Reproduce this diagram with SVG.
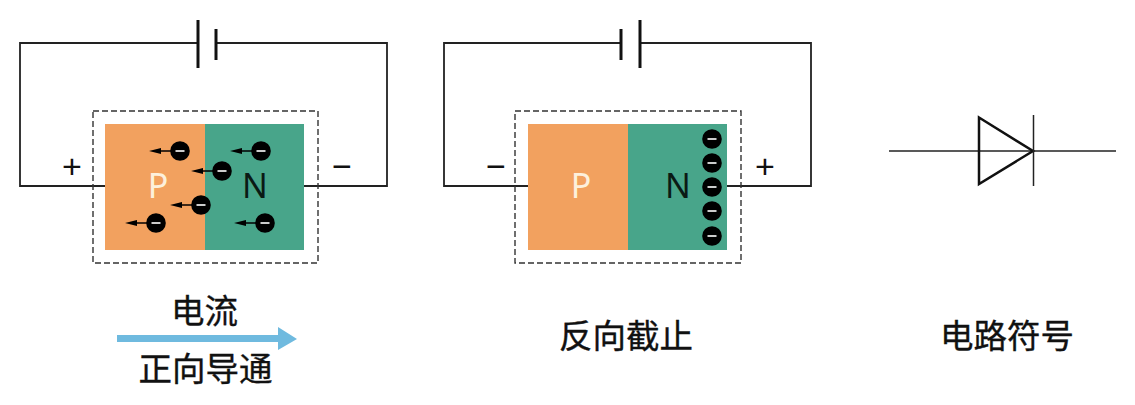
<svg xmlns="http://www.w3.org/2000/svg" width="1135" height="405" viewBox="0 0 1135 405">
<style>
.w{fill:none;stroke:#222;stroke-width:1.8}
.d{fill:none;stroke:#333;stroke-width:1.4;stroke-dasharray:6 3}
.p{fill:#f2a15f}.n{fill:#48a58a}
.l{font-family:"Noto Sans","Liberation Sans",sans-serif;font-size:34px;text-anchor:middle}
.s{font-family:"Liberation Sans",sans-serif;font-size:34px;text-anchor:middle;fill:#111}
.c{font-family:"Noto Sans CJK SC","Noto Sans",sans-serif;font-size:33.5px;text-anchor:middle;fill:#111;stroke:#111;stroke-width:.35}
.b{fill:none;stroke:#111;stroke-width:3}
</style>
<defs>
<g id="e"><circle r="9.8" fill="#000"/><rect x="-4.500" y="-1" width="9" height="2" fill="#ccc"/></g>
<g id="ea"><line x1="-24" y1="0" x2="-5" y2="0" stroke="#000" stroke-width="1.500"/><path d="M-31 0L-19 -3V3Z" fill="#000"/><use href="#e"/></g>
</defs>
<g id="connectors">
<path class="w" d="M198 43H20V186H105M216 43H387V186H304"/>
<path class="w" d="M621 43H444V186H528M640 43H811V186H727"/>
<path class="b" d="M198 20V68"/>
<path class="b" d="M216 29V60"/>
<path class="b" d="M621 29V60"/>
<path class="b" d="M640 20V68"/>
</g>
<g id="forward-diode">
<rect class="d" x="93" y="111" width="225" height="152"/>
<rect class="p" x="105" y="124" width="100" height="126"/>
<rect class="n" x="205" y="124" width="99" height="126"/>
<text class="l" x="158" y="198" fill="#fdf0dc">P</text>
<text class="l" x="255" y="198" fill="#0a1a14">N</text>
<text class="s" x="72" y="178">+</text>
<text class="s" x="342" y="178">−</text>
<use href="#ea" x="180" y="151"/>
<use href="#ea" x="222" y="171"/>
<use href="#ea" x="201" y="205"/>
<use href="#ea" x="156" y="223"/>
<use href="#ea" x="261" y="151"/>
<use href="#ea" x="265" y="223"/>
</g>
<g id="reverse-diode">
<rect class="d" x="515" y="111" width="226" height="152"/>
<rect class="p" x="528" y="124" width="100" height="126"/>
<rect class="n" x="628" y="124" width="99" height="126"/>
<text class="l" x="581" y="198" fill="#fdf0dc">P</text>
<text class="l" x="678" y="198" fill="#0a1a14">N</text>
<text class="s" x="496" y="178">−</text>
<text class="s" x="765" y="178">+</text>
<use href="#e" x="712" y="139"/>
<use href="#e" x="712" y="163"/>
<use href="#e" x="712" y="187"/>
<use href="#e" x="712" y="211"/>
<use href="#e" x="712" y="236"/>
</g>
<g id="symbol">
<path d="M889 151H1116" stroke="#222" stroke-width="1.500" fill="none"/>
<path d="M979 117.500L1033 151L979 184Z" fill="none" stroke="#111" stroke-width="2.500"/>
<path d="M1033.500 115V186" stroke="#222" stroke-width="1.500" fill="none"/>
</g>
<g id="current">
<path d="M117 335H278V327L297 339L278 350V342H117Z" fill="#6fbadf"/>
<text class="c" x="204.500" y="323">电流</text>
<text class="c" x="205.500" y="381">正向导通</text>
</g>
<text class="c" x="626" y="348">反向截止</text>
<text class="c" x="1007" y="348">电路符号</text>
</svg>
